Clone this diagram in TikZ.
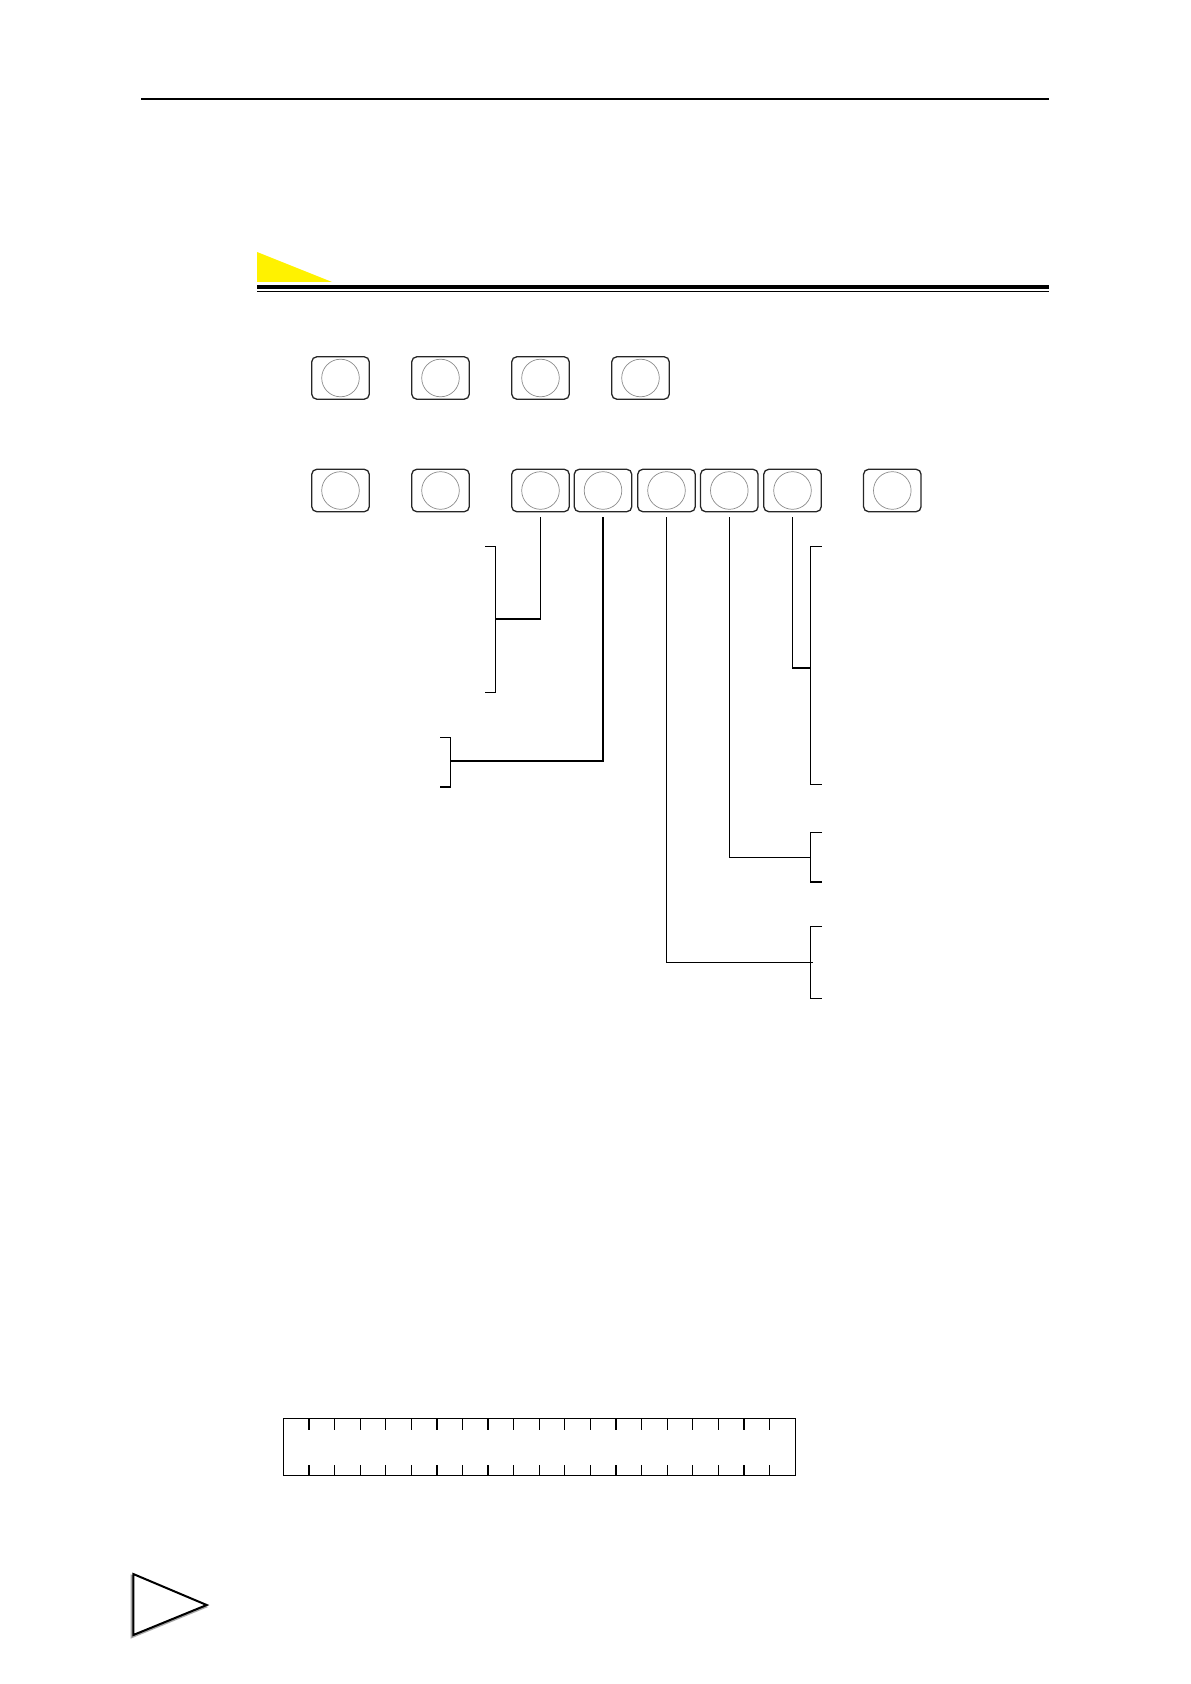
\documentclass[tikz,border=0pt]{standalone}
\begin{document}
\begin{tikzpicture}[x=0.5pt,y=-0.5pt,
  keybox/.style={draw=black!85, line width=0.65pt, rounded corners=2.5pt,
    minimum width=28.75pt, minimum height=21.2pt, inner sep=0pt,
    path picture={\draw[black!45,line width=0.35pt]
      (path picture bounding box.center) circle[radius=9.4pt];}},
  wire/.style={line width=0.6pt},
  lead/.style={wire, shorten <=2.5pt},
]
\useasboundingbox (0,0) rectangle (1190,1684);

% header rule
\draw[line width=1.05pt] (141,98.8) -- (1049,98.8);

% section marker
\fill[yellow] (257,252) -- (257,282) -- (332,282) -- cycle;
\fill (257,285) rectangle (1049,289);
\draw[line width=0.5pt] (257,291.5) -- (1049,291.5);

% key row 1
\node[keybox] (a1) at (340.5,378) {};
\node[keybox] (a2) at (440.5,378) {};
\node[keybox] (a3) at (540.5,378) {};
\node[keybox] (a4) at (640.5,378) {};

% key row 2
\node[keybox] (b1) at (340.5,490.5) {};
\node[keybox] (b2) at (440.5,490.5) {};
\node[keybox] (b3) at (540.5,490.5) {};
\node[keybox] (b4) at (603,490.5) {};
\node[keybox] (b5) at (666.5,490.5) {};
\node[keybox] (b6) at (729.3,490.5) {};
\node[keybox] (b7) at (792.5,490.5) {};
\node[keybox] (b8) at (892.3,490.5) {};

% brackets and their middle points
\draw[wire] (485,546.3) -- (495.7,546.3) -- (495.7,692.3) -- (485,692.3);
\coordinate (m1) at (495.7,619);
\draw[wire] (440,737.3) -- (450.7,737.3) -- (450.7,787) -- (440,787);
\coordinate (m2) at (450.7,761);
\draw[wire] (821.7,546.3) -- (810.7,546.3) -- (810.7,784.3) -- (821.7,784.3);
\coordinate (m3) at (810.7,668);
\draw[wire] (822,832.3) -- (810.3,832.3) -- (810.3,882) -- (822,882);
\coordinate (m4) at (810.3,857.3);
\draw[wire] (822,926.3) -- (810.3,926.3) -- (810.3,998.3) -- (822,998.3);
\coordinate (m5) at (812.7,962.3);

% leads from keys to brackets
\draw[lead] (b3.south) -- (b3.south |- m1) -- (m1);
\draw[lead] (b4.south) -- (b4.south |- m2) -- (m2);
\draw[lead] (b7.south) -- (b7.south |- m3) -- (m3);
\draw[lead] (b6.south) -- (b6.south |- m4) -- (m4);
\draw[lead] (b5.south) -- (b5.south |- m5) -- (m5);

% bottom strip
\draw[wire] (283.4,1418.5) rectangle (795.1,1475.5);
\foreach \k in {1,...,19} {
  \draw[wire] ({283.4+\k*25.585},1418.5) -- ++(0,11);
  \draw[wire] ({283.4+\k*25.585},1475.5) -- ++(0,-10.5);
}

% page triangle
\draw[black!35, line width=1.1pt] (131.8,1576) -- (131.8,1637) -- (205.2,1607) -- cycle;
\draw[line width=1pt, fill=white] (133.3,1574) -- (133.3,1635) -- (206.7,1605) -- cycle;
\end{tikzpicture}
\end{document}
